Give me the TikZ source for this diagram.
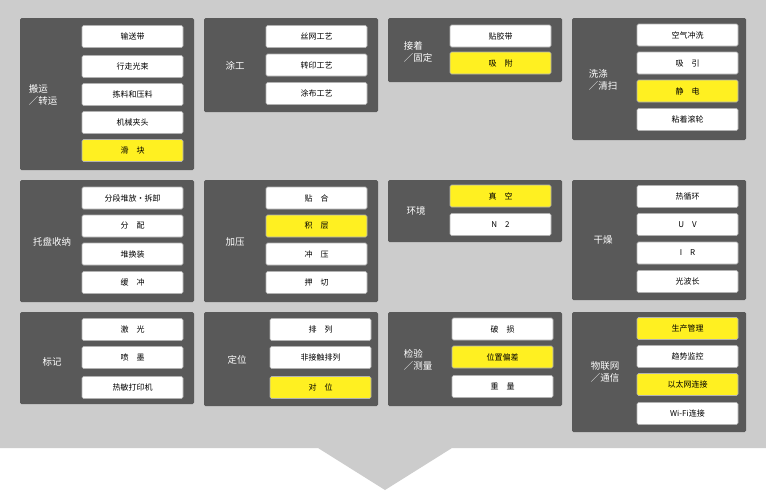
\documentclass[tikz,border=0pt]{standalone}
\usepackage{fontspec}
\newfontfamily\cjk{Noto Sans CJK SC}
\definecolor{bgg}{HTML}{CCCCCC}
\definecolor{pan}{HTML}{595959}
\definecolor{yel}{HTML}{FFF021}
\begin{document}
\begin{tikzpicture}[x=1pt,y=-1pt,font=\cjk\fontsize{8}{10}\selectfont,
  panel/.style={fill=pan,draw=none,rounded corners=1.5pt},
  lab/.style={text=white,align=left,font=\cjk\fontsize{9.5}{12}\selectfont},
  item/.style={fill=white,draw=gray!60,line width=0.6pt,rounded corners=1.5pt,minimum width=101pt,minimum height=22pt,inner sep=0pt},
  hl/.style={item,fill=yel}]
\useasboundingbox (0,0) rectangle (766,491);
\fill[white] (0,0) rectangle (766,491);
\fill[bgg] (0,0) -- (766,0) -- (766,448) -- (452,448) -- (385,490) -- (318,448) -- (0,448) -- cycle;
% row 1
\fill[panel] (20,18) rectangle (194,170);
\node[lab] (l1) at (43,95) {搬运\\／转运};
\node[item] (a1) at (132.5,36.5) {输送带};
\node[item] (a2) at (132.5,66.5) {行走光束};
\node[item] (a3) at (132.5,94.5) {拣料和压料};
\node[item] (a4) at (132.5,122.5) {机械夹头};
\node[hl] (a5) at (132.5,150.5) {滑\quad 块};
\fill[panel] (204,18) rectangle (378,112);
\node[lab] (l2) at (235,66) {涂工};
\node[item] (b1) at (316.5,36.5) {丝网工艺};
\node[item] (b2) at (316.5,65) {转印工艺};
\node[item] (b3) at (316.5,93.5) {涂布工艺};
\fill[panel] (388,18) rectangle (562,82);
\node[lab] (l3) at (418,52) {接着\\／固定};
\node[item] (c1) at (500.5,36) {贴胶带};
\node[hl] (c2) at (500.5,63) {吸\quad 附};
\fill[panel] (572,18) rectangle (746,140);
\node[lab] (l4) at (603,80) {洗涤\\／清扫};
\node[item] (d1) at (687.5,35) {空气冲洗};
\node[item] (d2) at (687.5,63) {吸\quad 引};
\node[hl] (d3) at (687.5,91) {静\quad 电};
\node[item] (d4) at (687.5,119.5) {粘着滚轮};
% row 2
\fill[panel] (20,180) rectangle (194,302);
\node[lab] (l5) at (52,242) {托盘收纳};
\node[item] (e1) at (132.5,198) {分段堆放•拆卸};
\node[item] (e2) at (132.5,226) {分\quad 配};
\node[item] (e3) at (132.5,254) {堆换装};
\node[item] (e4) at (132.5,282.5) {缓\quad 冲};
\fill[panel] (204,180) rectangle (378,302);
\node[lab] (l6) at (235,242) {加压};
\node[item] (f1) at (316.5,198) {贴\quad 合};
\node[hl] (f2) at (316.5,226) {积\quad 层};
\node[item] (f3) at (316.5,254) {冲\quad 压};
\node[item] (f4) at (316.5,282.5) {押\quad 切};
\fill[panel] (388,180) rectangle (562,242);
\node[lab] (l7) at (416,211) {环境};
\node[hl] (g1) at (500.5,196) {真\quad 空};
\node[item] (g2) at (500.5,224.5) {N\quad 2};
\fill[panel] (572,180) rectangle (746,300);
\node[lab] (l8) at (603,240) {干燥};
\node[item] (h1) at (687.5,196.5) {热循环};
\node[item] (h2) at (687.5,224.5) {U\quad V};
\node[item] (h3) at (687.5,253) {I\quad R};
\node[item] (h4) at (687.5,281.5) {光波长};
% row 3
\fill[panel] (20,312) rectangle (194,404);
\node[lab] (l9) at (52,362) {标记};
\node[item] (i1) at (132.5,329.5) {激\quad 光};
\node[item] (i2) at (132.5,357.5) {喷\quad 墨};
\node[item] (i3) at (132.5,387.5) {热敏打印机};
\fill[panel] (204,312) rectangle (378,406);
\node[lab] (l10) at (237,360) {定位};
\node[item] (j1) at (320.5,329.5) {排\quad 列};
\node[item] (j2) at (320.5,357.5) {非接触排列};
\node[hl] (j3) at (320.5,387.5) {对\quad 位};
\fill[panel] (388,312) rectangle (562,406);
\node[lab] (l11) at (418,360) {检验\\／测量};
\node[item] (k1) at (502.5,329) {破\quad 损};
\node[hl] (k2) at (502.5,357) {位置偏差};
\node[item] (k3) at (502.5,386.5) {重\quad 量};
\fill[panel] (572,312) rectangle (746,432);
\node[lab] (l12) at (605,372) {物联网\\／通信};
\node[hl] (m1) at (687.5,328.5) {生产管理};
\node[item] (m2) at (687.5,356.5) {趋势监控};
\node[hl] (m3) at (687.5,384.5) {以太网连接};
\node[item] (m4) at (687.5,413.5) {Wi-Fi连接};
\end{tikzpicture}
\end{document}
